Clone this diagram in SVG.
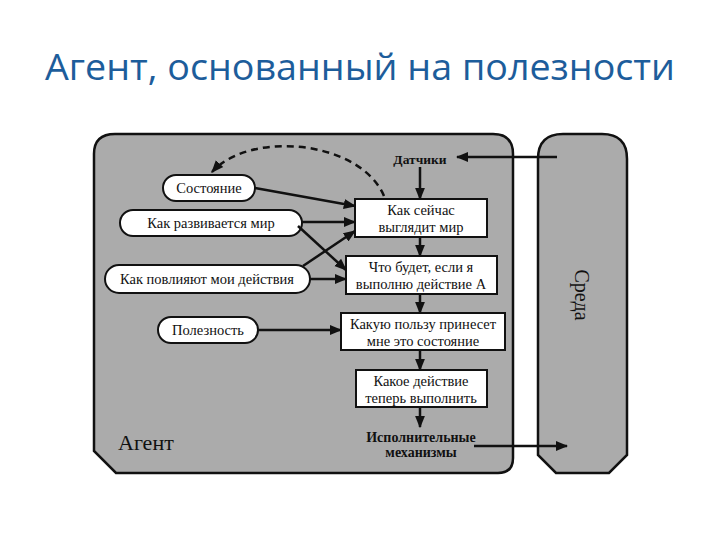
<svg xmlns="http://www.w3.org/2000/svg" width="720" height="540" viewBox="0 0 720 540">
<defs>
<marker id="ah" viewBox="0 0 10 10" refX="9" refY="5" markerWidth="5" markerHeight="5" orient="auto" markerUnits="strokeWidth">
<path d="M0,1 L10,5 L0,9 Z" fill="#111"/>
</marker>
<style>
.panel{fill:#ababab;stroke:#111;stroke-width:2.5}
.box{fill:#fff;stroke:#111;stroke-width:2}
.oval{fill:#fff;stroke:#111;stroke-width:2}
.t{font-family:"Liberation Serif","DejaVu Serif",serif;font-size:14.5px;fill:#111;text-anchor:middle}
.tb{font-family:"Liberation Serif","DejaVu Serif",serif;font-size:14px;fill:#111;text-anchor:middle;font-weight:bold}
.c{fill:none;stroke:#111;stroke-width:2.5;marker-end:url(#ah)}
.d{fill:none;stroke:#111;stroke-width:2.5;stroke-dasharray:7,5;marker-end:url(#ah)}
</style>
</defs>
<rect width="720" height="540" fill="#fff"/>
<text x="360" y="80" textLength="630" lengthAdjust="spacingAndGlyphs" style="font-family:'Open Sans','Noto Sans',sans-serif;font-size:36px;fill:#1d5d9b;text-anchor:middle">Агент, основанный на полезности</text>

<g id="agent">
<path class="panel" d="M115,134 H493 Q513,134 513,154 V458 Q513,473 498,473 H116 L94,451 V154 Q94,134 115,134 Z"/>
<text x="118" y="450" style="font-family:'Liberation Serif','DejaVu Serif',serif;font-size:22px;fill:#111">Агент</text>
</g>
<g id="environment">
<path class="panel" d="M563,134 H602 Q627,134 627,159 V455 L609,473 H556 L538,455 V159 Q538,134 563,134 Z"/>
<text transform="translate(575,295) rotate(90)" style="font-family:'Liberation Serif','DejaVu Serif',serif;font-size:20px;fill:#111;text-anchor:middle">Среда</text>
</g>

<g id="sensors"><text class="tb" x="420" y="164" style="font-size:13.5px">Датчики</text></g>
<g id="state"><rect class="oval" x="163" y="175" width="92" height="26" rx="13"/><text class="t" x="209" y="193">Состояние</text></g>
<g id="world-evolves"><rect class="oval" x="120" y="210" width="182" height="26" rx="13"/><text class="t" x="211" y="228">Как развивается мир</text></g>
<g id="actions-effect"><rect class="oval" x="105" y="265" width="205" height="28" rx="14"/><text class="t" x="207" y="284">Как повлияют мои действия</text></g>
<g id="utility"><rect class="oval" x="158" y="317" width="100" height="26" rx="13"/><text class="t" x="208" y="335">Полезность</text></g>

<g id="world-now"><rect class="box" x="355" y="199" width="132" height="38"/><text class="t" x="421" y="215">Как сейчас</text><text class="t" x="421" y="232">выглядит мир</text></g>
<g id="what-if"><rect class="box" x="346" y="256" width="151" height="38"/><text class="t" x="421" y="272">Что будет, если я</text><text class="t" x="421" y="289">выполню действие А</text></g>
<g id="how-useful"><rect class="box" x="341" y="313" width="164" height="37"/><text class="t" x="423" y="329">Какую пользу принесет</text><text class="t" x="423" y="346">мне это состояние</text></g>
<g id="which-action"><rect class="box" x="356" y="370" width="131" height="37"/><text class="t" x="421" y="386">Какое действие</text><text class="t" x="421" y="403">теперь выполнить</text></g>
<g id="actuators"><text class="tb" x="421" y="442">Исполнительные</text><text class="tb" x="421" y="457">механизмы</text></g>

<g id="connectors">
<path class="c" d="M557,157 H457"/>
<path class="c" d="M420,167 V199"/>
<path class="c" d="M420,237 V256"/>
<path class="c" d="M420,294 V313"/>
<path class="c" d="M420,350 V370"/>
<path class="c" d="M420,407 V427"/>
<path class="c" d="M474,446 H567"/>
<path class="c" d="M255,188 L355,206"/>
<path class="c" d="M302,222 H355"/>
<path class="c" d="M298,226 L346,270"/>
<path class="c" d="M303,266 L355,231"/>
<path class="c" d="M310,279 H346"/>
<path class="c" d="M258,330 H341"/>
<path class="d" d="M384,196 C360,140 250,130 212,172"/>
</g>
</svg>
